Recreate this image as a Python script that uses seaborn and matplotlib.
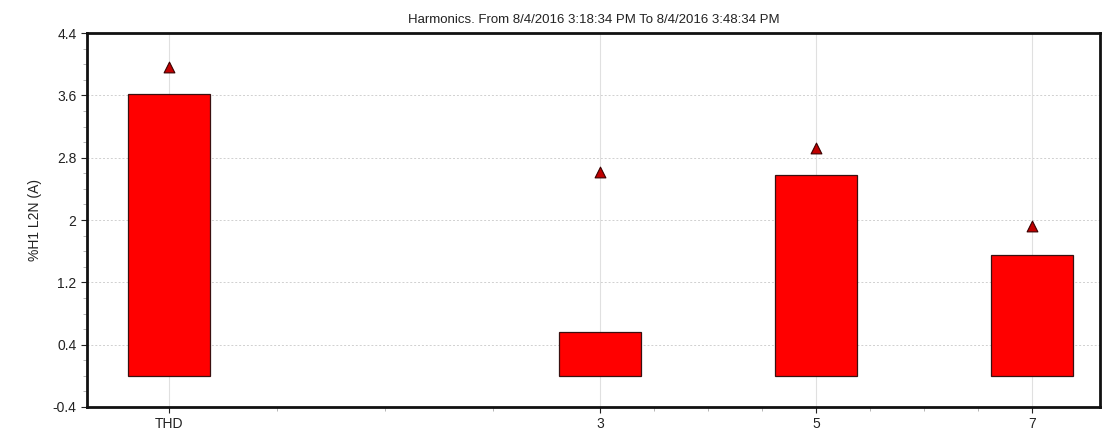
import numpy as np
import pandas as pd
import seaborn as sns
import matplotlib
matplotlib.use("Agg")
import matplotlib.pyplot as plt

# harmonic data
labels = ["THD", "3", "5", "7"]
orders = [-1, 3, 5, 7]          # THD drawn in front of the harmonic orders
avg_values = [3.62, 0.56, 2.58, 1.55]
max_values = [3.96, 2.62, 2.92, 1.92]

y_ticks = [-0.4, 0.4, 1.2, 2.0, 2.8, 3.6, 4.4]
y_tick_labels = ["-0.4", "0.4", "1.2", "2", "2.8", "3.6", "4.4"]
x_minor = [0, 1, 2, 3.5, 4, 4.5, 5.5, 6, 6.5]

df = pd.DataFrame({"order": orders, "avg": avg_values, "max": max_values})

sns.set_style("white")
plt.rcParams["font.family"] = ["Liberation Sans", "DejaVu Sans"]

fig = plt.figure(figsize=(11.19, 4.45), dpi=100)
ax = fig.add_axes([0.0777, 0.0854, 0.9053, 0.8404])

# grid first so it sits behind the bars
ax.set_axisbelow(True)
for yv in y_ticks:
    ax.axhline(yv, color="#d0d0d0", lw=0.7, ls=(0, (2, 2)), zorder=0)
for xv in orders:
    ax.axvline(xv, color="#e0e0e0", lw=0.8, zorder=0)

sns.barplot(data=df, x="order", y="avg", native_scale=True, width=0.38,
            color="#ff0000", edgecolor="#3a1010", linewidth=0.9,
            saturation=1, ax=ax, zorder=2)

sns.scatterplot(data=df, x="order", y="max", marker="^", s=60,
                color="#c00000", edgecolor="#3a0000", linewidth=0.8,
                ax=ax, zorder=3)

ax.set_xlim(-1.76, 7.63)
ax.set_ylim(-0.4, 4.4)
ax.set_xticks(orders)
ax.set_xticklabels(labels)
ax.set_xticks(x_minor, minor=True)
ax.set_yticks(y_ticks)
ax.set_yticklabels(y_tick_labels)
ax.set_yticks(np.arange(-0.4, 4.41, 0.2), minor=True)

ax.tick_params(axis="both", which="major", labelsize=10, colors="#222222",
               length=4, width=0.8, direction="out")
ax.tick_params(axis="both", which="minor", length=3, width=0.6,
               color="#aaaaaa", direction="out")
ax.tick_params(axis="y", which="both", left=True)
ax.tick_params(axis="x", which="both", bottom=True)

for sp in ax.spines.values():
    sp.set_visible(True)
    sp.set_color("#111111")
    sp.set_linewidth(2)

ax.set_xlabel("")
ax.set_ylabel("%H1 L2N (A)", fontsize=10, color="#222222", labelpad=8)
ax.set_title("Harmonics. From 8/4/2016 3:18:34 PM To 8/4/2016 3:48:34 PM",
             fontsize=9.5, color="#222222", pad=7)

fig.savefig("out.png", dpi=100)
